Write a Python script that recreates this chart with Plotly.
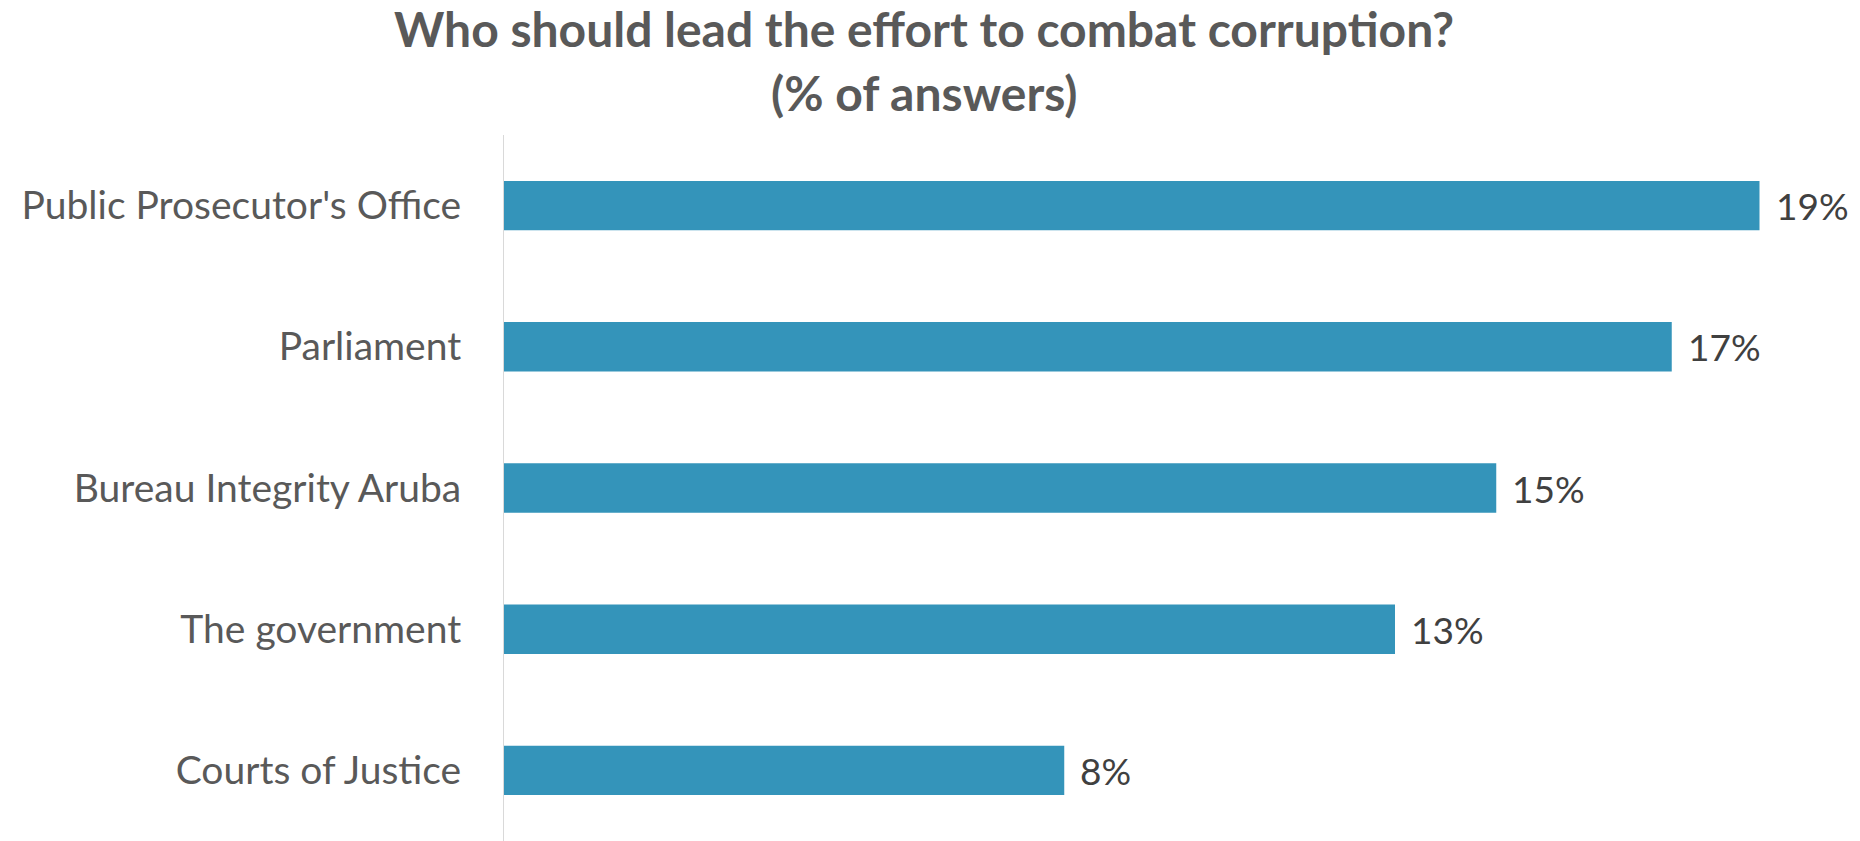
import plotly.graph_objects as go

categories = ["Public Prosecutor's Office", "Parliament", "Bureau Integrity Aruba",
              "The government", "Courts of Justice"]
values = [18.6, 17.3, 14.7, 13.2, 8.3]
value_labels = ["19%", "17%", "15%", "13%", "8%"]
title_lines = ["Who should lead the effort to combat corruption?", "(% of answers)"]

BAR = "#3494BA"
GREY = "#595959"
DARK = "#404040"
FONT = "Lato"

L, R, T = 504, 6, 135
PW = 1860 - L - R
PH = 841 - T

def px_x(p):
    return (p - L) / PW

def px_y(p):
    return (841 - p) / PH

fig = go.Figure()
fig.add_trace(go.Bar(
    x=values, y=categories, orientation="h",
    marker=dict(color=BAR, line=dict(width=0)),
    hoverinfo="skip",
))

annotations = []
for cat, v, lab in zip(categories, values, value_labels):
    annotations.append(dict(
        x=v, y=cat, xref="x", yref="y", text=lab, showarrow=False,
        xanchor="left", yanchor="middle", xshift=14,
        font=dict(family=FONT, size=37, color=DARK),
    ))
annotations.append(dict(
    x=px_x(924), y=px_y(28), xref="paper", yref="paper", text=title_lines[0],
    showarrow=False, xanchor="center", yanchor="middle",
    font=dict(family=FONT, size=48, color=GREY, weight="bold"),
))
annotations.append(dict(
    x=px_x(924), y=px_y(93), xref="paper", yref="paper", text=title_lines[1],
    showarrow=False, xanchor="center", yanchor="middle",
    font=dict(family=FONT, size=48, color=GREY, weight="bold"),
))

fig.update_layout(
    width=1860, height=841,
    margin=dict(l=L, r=R, t=T, b=0),
    paper_bgcolor="white", plot_bgcolor="white",
    bargap=0.65,
    showlegend=False,
    annotations=annotations,
    xaxis=dict(range=[0, 20], showgrid=False, zeroline=False, showticklabels=False,
               showline=False, fixedrange=True),
    yaxis=dict(autorange="reversed", showgrid=False, zeroline=False,
               showline=True, linecolor="#D9D9D9", linewidth=1,
               ticks="", ticklabelstandoff=34,
               tickfont=dict(family=FONT, size=39, color=GREY), fixedrange=True),
)

fig.write_html("out.html")
